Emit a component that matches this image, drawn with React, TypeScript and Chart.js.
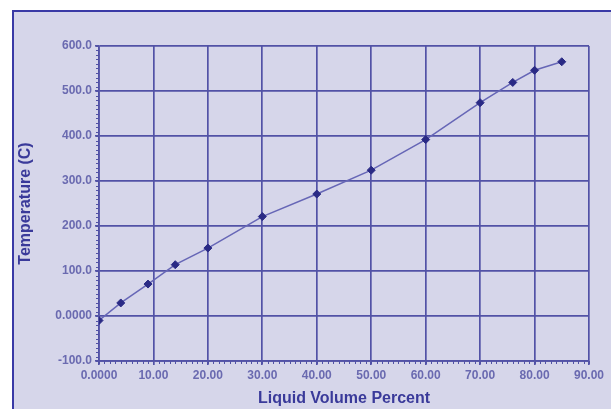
import React, { useEffect, useRef } from "react";
import { Chart, registerables } from "chart.js";

Chart.register(...registerables);

const liquidVolumePercent = [0, 4, 9, 14, 20, 30, 40, 50, 60, 70, 76, 80, 85];
const temperatureC = [-10, 29, 71, 114, 151, 221, 271, 324, 392, 474, 519, 546, 565];
const xTickValues = [0, 10, 20, 30, 40, 50, 60, 70, 80, 90];
const xTickLabels = ["0.0000", "10.00", "20.00", "30.00", "40.00", "50.00", "60.00", "70.00", "80.00", "90.00"];
const yTickValues = [-100, 0, 100, 200, 300, 400, 500, 600];
const yTickLabels = ["-100.0", "0.0000", "100.0", "200.0", "300.0", "400.0", "500.0", "600.0"];

const GRID = "#5252a6";
const TICK_TEXT = "#6a6ab0";
const TITLE_TEXT = "#3a3a9a";

const minorTicks = {
  id: "minorTicks",
  afterDraw(chart: any) {
    const ctx = chart.ctx;
    const x = chart.scales.x;
    const y = chart.scales.y;
    const area = chart.chartArea;
    ctx.save();
    ctx.strokeStyle = GRID;
    ctx.lineWidth = 1;
    ctx.beginPath();
    for (let v = x.min; v <= x.max; v += 1) {
      const px = Math.round(x.getPixelForValue(v)) + 0.5;
      ctx.moveTo(px, area.bottom);
      ctx.lineTo(px, area.bottom + 3);
    }
    for (let v = y.min; v <= y.max; v += 10) {
      const py = Math.round(y.getPixelForValue(v)) + 0.5;
      ctx.moveTo(area.left, py);
      ctx.lineTo(area.left - 3, py);
    }
    ctx.stroke();
    ctx.restore();
  },
};

export default function App() {
  const ref = useRef<HTMLCanvasElement | null>(null);

  useEffect(() => {
    document.body.style.margin = "0";
    if (!ref.current) return;
    const chart = new Chart(ref.current, {
      type: "scatter",
      data: {
        datasets: [
          {
            data: liquidVolumePercent.map((v, i) => ({ x: v, y: temperatureC[i] })),
            showLine: true,
            borderColor: "#6666b6",
            borderWidth: 1.5,
            pointStyle: "rectRot",
            pointRadius: 4,
            pointBackgroundColor: "#2a2a85",
            pointBorderColor: "#2a2a85",
            pointBorderWidth: 1,
          },
        ],
      },
      options: {
        animation: false,
        responsive: false,
        devicePixelRatio: 1,
        layout: { padding: { top: 46, right: 24, left: 0, bottom: 0 } },
        plugins: { legend: { display: false }, tooltip: { enabled: false } },
        scales: {
          x: {
            type: "linear",
            min: 0,
            max: 90,
            afterBuildTicks: (s: any) => {
              s.ticks = xTickValues.map((v) => ({ value: v }));
            },
            afterFit: (s: any) => {
              s.height = 48;
            },
            ticks: {
              color: TICK_TEXT,
              font: { family: "Liberation Sans, Arial", size: 12, weight: "bold" },
              padding: 3,
              maxRotation: 0,
              callback: (v: any) => {
                const i = xTickValues.indexOf(Number(v));
                return i >= 0 ? xTickLabels[i] : "";
              },
            },
            grid: { color: GRID, lineWidth: 1.7, tickLength: 4 },
            border: { color: GRID, width: 1.7 },
            title: {
              display: true,
              text: "Liquid Volume Percent",
              color: TITLE_TEXT,
              font: { family: "Liberation Sans, Arial", size: 16, weight: "bold" },
              padding: { top: 0, bottom: 1 },
            },
          },
          y: {
            type: "linear",
            min: -100,
            max: 600,
            afterBuildTicks: (s: any) => {
              s.ticks = yTickValues.map((v) => ({ value: v }));
            },
            afterFit: (s: any) => {
              s.width = 99;
            },
            ticks: {
              color: TICK_TEXT,
              font: { family: "Liberation Sans, Arial", size: 12, weight: "bold" },
              padding: 3,
              callback: (v: any) => {
                const i = yTickValues.indexOf(Number(v));
                return i >= 0 ? yTickLabels[i] : "";
              },
            },
            grid: { color: GRID, lineWidth: 1.7, tickLength: 4 },
            border: { color: GRID, width: 1.7 },
            title: {
              display: true,
              text: "Temperature (C)",
              color: TITLE_TEXT,
              font: { family: "Liberation Sans, Arial", size: 16, weight: "bold" },
              padding: { top: 16, bottom: 0 },
            },
          },
        },
      },
      plugins: [minorTicks],
    });
    return () => chart.destroy();
  }, []);

  return (
    <div style={{ position: "relative", width: 613, height: 409, background: "#ffffff", overflow: "hidden" }}>
      <div
        style={{
          position: "absolute",
          left: 12,
          top: 10,
          width: 599,
          height: 420,
          background: "#d6d6ea",
          borderTop: "2px solid #3a3aa6",
          borderLeft: "2px solid #3a3aa6",
          boxSizing: "border-box",
        }}
      />
      <canvas ref={ref} width={613} height={409} style={{ position: "absolute", left: 0, top: 0 }} />
    </div>
  );
}
